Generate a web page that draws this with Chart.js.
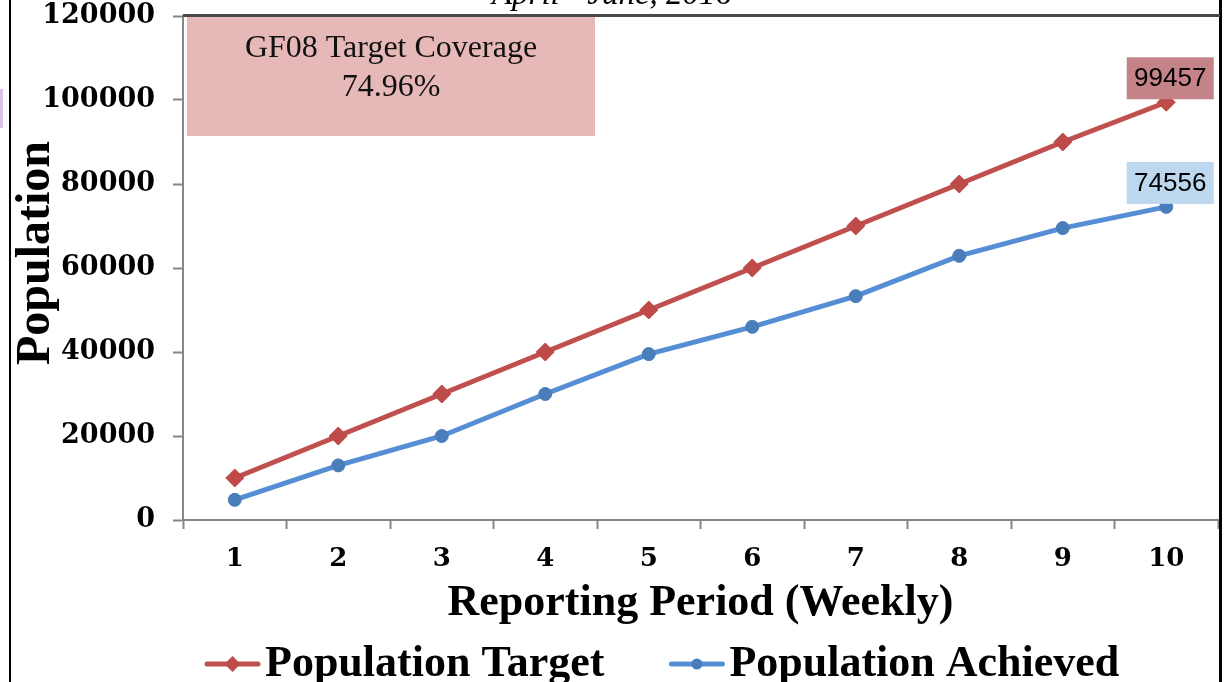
<!DOCTYPE html>
<html>
<head>
<meta charset="utf-8">
<script src="https://cdn.jsdelivr.net/npm/chart.js@4.4.1/dist/chart.umd.min.js"></script>
<style>
  html, body { margin: 0; padding: 0; background: #fff; }
  #wrap { width: 1230px; height: 682px; position: relative; }
</style>
</head>
<body>
<div id="wrap"><canvas id="chart" width="1230" height="682"></canvas></div>
<script>
// ── Data ──────────────────────────────────────────────────────────────────────
const periods   = ["1", "2", "3", "4", "5", "6", "7", "8", "9", "10"];
const target    = [10000, 20000, 30000, 40000, 50000, 60000, 70000, 80000, 90000, 99457];
const achieved  = [4800, 13000, 20000, 30000, 39500, 46000, 53300, 62900, 69500, 74556];
const yTicks    = [0, 20000, 40000, 60000, 80000, 100000, 120000];
const titleText = "April - June, 2016";
const boxTitle  = "GF08 Target Coverage";
const yTitle    = "Population";

const RED       = "#c0504d";
const RED_PT    = "#be4b48";
const BLUE      = "#558ed5";
const BLUE_PT   = "#4a7ebb";
const AXIS_GREY = "#868686";

// ── Decorations: frame, titles, coverage box, end labels, legend ─────────────
const decorPlugin = {
  id: "decor",
  beforeDraw(chart) {
    const { ctx, width, height } = chart;
    ctx.save();
    ctx.fillStyle = "#fff";
    ctx.fillRect(0, 0, width, height);
    ctx.restore();
  },
  afterDraw(chart) {
    const { ctx, chartArea } = chart;
    ctx.save();

    // outer frame pieces
    ctx.fillStyle = "#d8c0e8";
    ctx.fillRect(0, 89, 3, 39);
    ctx.fillStyle = "#000";
    ctx.fillRect(9, 0, 2, chart.height);
    ctx.fillRect(1219, 0, 3, chart.height);

    // plot area top border
    ctx.strokeStyle = "#4a4a4a";
    ctx.lineWidth = 3;
    ctx.beginPath();
    ctx.moveTo(chartArea.left, chartArea.top - 0.5);
    ctx.lineTo(1220, chartArea.top - 0.5);
    ctx.stroke();

    // title (cut off at the top)
    ctx.fillStyle = "#000";
    ctx.font = 'italic 33px "Liberation Serif"';
    ctx.textAlign = "center";
    ctx.textBaseline = "alphabetic";
    ctx.fillText(titleText, 612, 4);

    // y axis title
    ctx.save();
    ctx.translate(37, 253);
    ctx.rotate(-Math.PI / 2);
    ctx.font = 'bold 48px "Liberation Serif"';
    ctx.textBaseline = "middle";
    ctx.fillText(yTitle, 0, 0);
    ctx.restore();

    // coverage box
    const last = target.length - 1;
    const cover = (achieved[last] / target[last] * 100).toFixed(2) + "%";
    ctx.fillStyle = "#e6b8b7";
    ctx.fillRect(187, 17, 408, 119);
    ctx.fillStyle = "#111";
    ctx.font = '32px "Liberation Serif"';
    ctx.textBaseline = "middle";
    ctx.fillText(boxTitle, 391, 49);
    ctx.fillText(cover, 391, 88);

    // value labels at last point
    const fills = ["#c38389", "#bdd7ee"];
    chart.data.datasets.forEach((ds, i) => {
      const pt = chart.getDatasetMeta(i).data[last];
      const cx = pt.x + 4, cy = pt.y - 24;
      ctx.fillStyle = fills[i];
      ctx.fillRect(cx - 43.5, cy - 21, 87, 42);
      ctx.fillStyle = "#000";
      ctx.font = '26px "Liberation Sans"';
      ctx.fillText(String(ds.data[last]), cx, cy + 1);
    });

    // legend
    let x = 205;
    const ly = 664;
    ctx.font = 'bold 44px "Liberation Serif"';
    ctx.textAlign = "left";
    chart.data.datasets.forEach(ds => {
      ctx.strokeStyle = ds.borderColor;
      ctx.lineWidth = 5;
      ctx.lineCap = "round";
      ctx.beginPath();
      ctx.moveTo(x + 2, ly);
      ctx.lineTo(x + 53, ly);
      ctx.stroke();
      ctx.fillStyle = ds.pointBackgroundColor;
      ctx.beginPath();
      if (ds.pointStyle === "rectRot") {
        ctx.moveTo(x + 27.5, ly - 8);
        ctx.lineTo(x + 35.5, ly);
        ctx.lineTo(x + 27.5, ly + 8);
        ctx.lineTo(x + 19.5, ly);
        ctx.closePath();
      } else {
        ctx.arc(x + 27.5, ly, 5.5, 0, Math.PI * 2);
      }
      ctx.fill();
      ctx.fillStyle = "#000";
      ctx.fillText(ds.label, x + 60, ly + 1);
      x += 60 + ctx.measureText(ds.label).width + 65;
    });

    ctx.restore();
  }
};

// ── Chart ─────────────────────────────────────────────────────────────────────
new Chart(document.getElementById("chart"), {
  type: "line",
  data: {
    labels: periods,
    datasets: [
      {
        label:                "Population Target",
        data:                 target,
        borderColor:          RED,
        borderWidth:          5,
        tension:              0,
        pointStyle:           "rectRot",
        pointRadius:          9,
        pointBackgroundColor: RED_PT,
        pointBorderColor:     RED_PT,
        pointBorderWidth:     1
      },
      {
        label:                "Population Achieved",
        data:                 achieved,
        borderColor:          BLUE,
        borderWidth:          5,
        tension:              0,
        pointStyle:           "circle",
        pointRadius:          6.5,
        pointBackgroundColor: BLUE_PT,
        pointBorderColor:     BLUE_PT,
        pointBorderWidth:     1
      }
    ]
  },
  options: {
    responsive:          false,
    animation:           false,
    devicePixelRatio:    1,
    layout: { padding: { left: 0, right: 12, top: 16, bottom: 0 } },
    plugins: {
      legend:  { display: false },
      tooltip: { enabled: false }
    },
    scales: {
      x: {
        offset: true,
        grid: {
          offset:          true,
          drawOnChartArea: false,
          tickLength:      9,
          tickWidth:       2,
          tickColor:       AXIS_GREY
        },
        border: { color: AXIS_GREY, width: 2 },
        ticks: {
          color:       "#000",
          padding:     15,
          maxRotation: 0,
          font: { family: "DejaVu Serif", weight: "bold", size: 26 }
        },
        title: {
          display: true,
          text:    "Reporting Period (Weekly)",
          color:   "#000",
          padding: { top: 0, bottom: 52 },
          font: { family: "Liberation Serif", weight: "bold", size: 44 }
        },
        afterFit: s => { s.height = 162; }
      },
      y: {
        min: 0,
        max: 120000,
        afterBuildTicks: s => { s.ticks = yTicks.map(v => ({ value: v })); },
        grid: {
          drawOnChartArea: false,
          tickLength:      10,
          tickWidth:       2,
          tickColor:       AXIS_GREY
        },
        border: { color: AXIS_GREY, width: 2 },
        ticks: {
          color:    "#000",
          padding:  18,
          callback: v => String(v),
          font: { family: "DejaVu Serif", weight: "bold", size: 27 }
        },
        title: { display: false },
        afterFit: s => {
          s.width = 183;
          s.paddingTop = 0;
          s.paddingBottom = 0;
        }
      }
    }
  },
  plugins: [decorPlugin]
});
</script>
</body>
</html>
